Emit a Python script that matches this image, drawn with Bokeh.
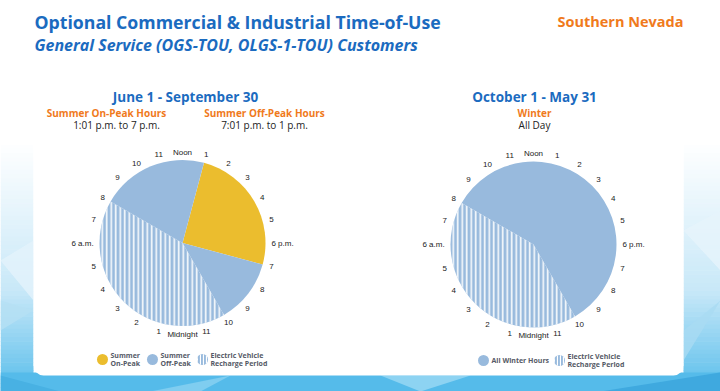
import math
from bokeh.plotting import figure
from bokeh.models import Range1d
from bokeh.core.properties import value
from bokeh.embed import file_html
from bokeh.resources import INLINE

# ---------------- data ----------------
title = "Optional Commercial & Industrial Time-of-Use"
subtitle = "General Service (OGS-TOU, OLGS-1-TOU) Customers"
region = "Southern Nevada"

summer_title = "June 1 - September 30"
summer_heads = ["Summer On-Peak Hours", "Summer Off-Peak Hours"]
summer_hours_txt = ["1:01 p.m. to 7 p.m.", "7:01 p.m. to 1 p.m."]
winter_title = "October 1 - May 31"
winter_heads = ["Winter"]
winter_hours_txt = ["All Day"]

# clock hours (0 = midnight, 12 = noon)
summer_period = ["On-Peak", "Off-Peak", "EV Recharge", "Off-Peak"]
summer_start = [13, 19, 22, 8]
summer_end = [19, 22, 32, 13]
winter_period = ["All Winter Hours", "EV Recharge"]
winter_start = [8, 22]
winter_end = [22, 32]

hour_labels = ["Midnight", "1", "2", "3", "4", "5", "6 a.m.", "7", "8", "9", "10", "11",
               "Noon", "1", "2", "3", "4", "5", "6 p.m.", "7", "8", "9", "10", "11"]

legend_left = [("Summer", "On-Peak"), ("Summer", "Off-Peak"), ("Electric Vehicle", "Recharge Period")]
legend_right = [("All Winter Hours",), ("Electric Vehicle", "Recharge Period")]

# ---------------- style ----------------
W, H = 720, 391
BLUE_T = "#1B6BC0"
ORANGE = "#F07A1C"
PIE_BLUE = "#98BADD"
YELLOW = "#EBBD2E"
DARK = "#222222"
HEAD_FONT = value("Open Sans")
LAB_FONT = value("Liberation Sans")

def X(xr):
    return xr

def Y(yr):
    return H - yr

p = figure(width=W, height=H, output_backend="svg", toolbar_location=None,
           x_range=Range1d(0, W), y_range=Range1d(0, H), min_border=0)
p.axis.visible = False
p.grid.visible = False
p.outline_line_color = None
p.background_fill_color = "white"
p.border_fill_color = "white"

# ---------------- background gradient at the sides & bottom ----------------
def lerp(c1, c2, t):
    return "#%02x%02x%02x" % tuple(int(round(a + (b - a) * t)) for a, b in zip(c1, c2))

top_c = (255, 255, 255)
mid_c = (200, 232, 248)
bot_c = (90, 190, 235)
n = 60
y0r, y1r = 140, 391
lefts, rights, tops, bottoms, cols = [], [], [], [], []
for i in range(n):
    a = y0r + (y1r - y0r) * i / n
    b = y0r + (y1r - y0r) * (i + 1) / n
    t = i / (n - 1)
    c = lerp(top_c, mid_c, t / 0.6) if t < 0.6 else lerp(mid_c, bot_c, (t - 0.6) / 0.4)
    for xl, xr in [(0, 33), (683, 720)]:
        lefts.append(X(xl)); rights.append(X(xr)); tops.append(Y(a)); bottoms.append(Y(b) - 0.5); cols.append(c)
p.quad(left=lefts, right=rights, top=tops, bottom=bottoms, fill_color=cols, line_color=None)

# decorative facets
facets = [
    ([0, 33, 33], [260, 300, 240], "#e3f3fb"),
    ([0, 33, 0], [330, 310, 300], "#b5e0f4"),
    ([683, 720, 720], [230, 270, 210], "#e6f4fb"),
    ([683, 720, 683], [330, 300, 360], "#a9dbf3"),
]
for xs, ys, c in facets:
    p.patch([X(v) for v in xs], [Y(v) for v in ys], fill_color=c, line_color=None, fill_alpha=0.8)

# bottom band
p.quad(left=[X(0)], right=[X(720)], top=[Y(372)], bottom=[Y(391)], fill_color="#55bbea", line_color=None)
band = [
    ([150, 230, 200], [391, 375, 391], "#7fcdf0"),
    ([380, 420, 470], [375, 391, 375], "#8dd3f2"),
    ([600, 720, 720], [391, 372, 391], "#3fa9df"),
    ([0, 60, 0], [375, 391, 391], "#48b1e3"),
]
for xs, ys, c in band:
    p.patch([X(v) for v in xs], [Y(v) for v in ys], fill_color=c, line_color=None)

# white card with rounded corners
p.rect(x=[X(358)], y=[Y(200)], width=[650], height=[350], fill_color="white",
       line_color=None, border_radius=10)
p.quad(left=[X(33)], right=[X(683)], top=[Y(0)], bottom=[Y(150)], fill_color="white", line_color=None)

# ---------------- header texts ----------------
p.text(x=[X(34)], y=[Y(21)], text=[title], text_font=HEAD_FONT, text_font_style="bold",
       text_font_size="17.7px", text_color=BLUE_T, text_baseline="middle", text_align="left")
p.text(x=[X(34)], y=[Y(44)], text=[subtitle], text_font=HEAD_FONT, text_font_style="bold italic",
       text_font_size="16px", text_color=BLUE_T, text_baseline="middle", text_align="left")
p.text(x=[X(683)], y=[Y(21)], text=[region], text_font=HEAD_FONT, text_font_style="bold",
       text_font_size="14.5px", text_color=ORANGE, text_baseline="middle", text_align="right")

p.text(x=[X(185)], y=[Y(96)], text=[summer_title], text_font=HEAD_FONT, text_font_style="bold",
       text_font_size="13.5px", text_color=BLUE_T, text_baseline="middle", text_align="center")
p.text(x=[X(106), X(264)], y=[Y(112)] * 2, text=summer_heads, text_font=HEAD_FONT, text_font_style="bold",
       text_font_size="10px", text_color=ORANGE, text_baseline="middle", text_align="center")
p.text(x=[X(116), X(264)], y=[Y(124.5)] * 2, text=summer_hours_txt, text_font=HEAD_FONT,
       text_font_size="10px", text_color=DARK, text_baseline="middle", text_align="center")

p.text(x=[X(534)], y=[Y(96)], text=[winter_title], text_font=HEAD_FONT, text_font_style="bold",
       text_font_size="13.5px", text_color=BLUE_T, text_baseline="middle", text_align="center")
p.text(x=[X(534)], y=[Y(112)], text=winter_heads, text_font=HEAD_FONT, text_font_style="bold",
       text_font_size="10px", text_color=ORANGE, text_baseline="middle", text_align="center")
p.text(x=[X(534)], y=[Y(124.5)], text=winter_hours_txt, text_font=HEAD_FONT,
       text_font_size="10px", text_color=DARK, text_baseline="middle", text_align="center")

# ---------------- clocks ----------------
def ang(h):
    return math.radians(90 - (h - 12) * 15)

R = 83

def clock(cx, cy, periods, starts, ends):
    for per, s, e in zip(periods, starts, ends):
        col = YELLOW if per == "On-Peak" else PIE_BLUE
        kw = {}
        if per == "EV Recharge":
            kw = dict(hatch_pattern="vertical_line", hatch_color="white", hatch_weight=1.6,
                      hatch_scale=4.5, hatch_alpha=0.95)
        p.wedge(x=[cx], y=[cy], radius=R, start_angle=ang(s), end_angle=ang(e),
                direction="clock", fill_color=col, line_color=None, **kw)
    xs, ys = [], []
    for h, lab in enumerate(hour_labels):
        if lab in ("Noon", "Midnight"):
            r = 91
        elif "m." in lab:
            r = 100
        else:
            r = 92
        a = ang(h)
        xs.append(cx + r * math.cos(a))
        ys.append(cy + r * math.sin(a))
    p.text(x=xs, y=ys, text=hour_labels, text_font=LAB_FONT, text_font_size="8px",
           text_color=DARK, text_align="center", text_baseline="middle")

clock(X(182), Y(242.5), summer_period, summer_start, summer_end)
clock(X(533), Y(244), winter_period, winter_start, winter_end)

# ---------------- legends ----------------
def legend_item(xc, yc, kind, lines):
    if kind == "ev":
        p.circle(x=[X(xc)], y=[Y(yc)], radius=5.5, fill_color=PIE_BLUE, line_color=None,
                 hatch_pattern="vertical_line", hatch_color="white", hatch_weight=1.2, hatch_scale=3)
    else:
        p.circle(x=[X(xc)], y=[Y(yc)], radius=5.5, fill_color=YELLOW if kind == "on" else PIE_BLUE,
                 line_color=None)
    if len(lines) == 1:
        ys = [Y(yc)]
    else:
        ys = [Y(yc - 4.3), Y(yc + 4.3)]
    p.text(x=[X(xc + 8)] * len(lines), y=ys, text=list(lines), text_font=HEAD_FONT,
           text_font_style="bold", text_font_size="7px", text_color="#555a66",
           text_align="left", text_baseline="middle")

legend_item(102, 359, "on", legend_left[0])
legend_item(152, 359, "off", legend_left[1])
legend_item(202, 359, "ev", legend_left[2])
legend_item(483, 360, "off", legend_right[0])
legend_item(559, 360, "ev", legend_right[1])

open("out.html", "w").write(file_html(p, INLINE))
